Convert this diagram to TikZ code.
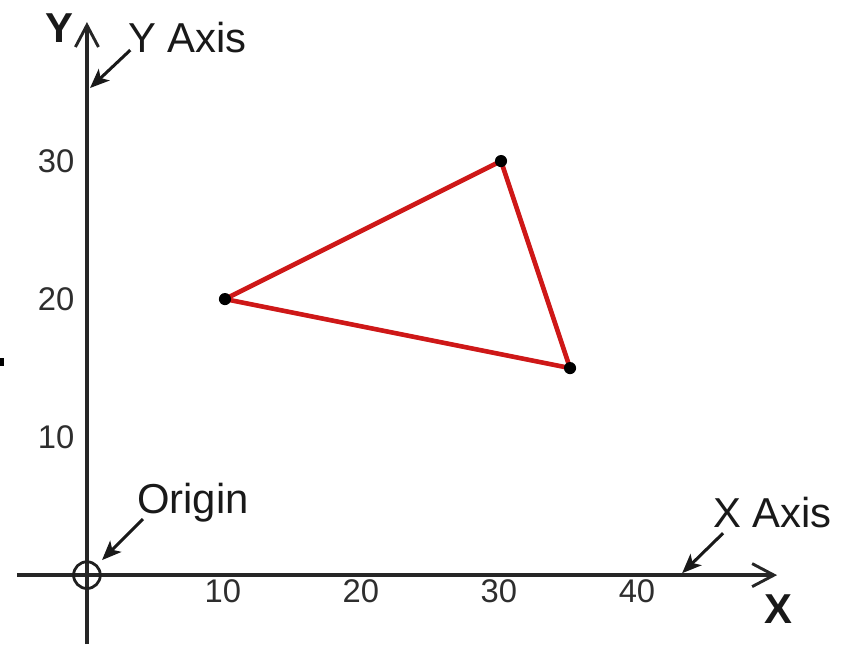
\documentclass[tikz,border=0pt]{standalone}
\usepackage{fontspec}
\setmainfont{Liberation Sans}
\usetikzlibrary{arrows.meta}

\definecolor{edgered}{RGB}{206,24,24}

\begin{document}
\begin{tikzpicture}[
  x=0.4cm, y=0.4cm,
  axis/.style={line width=2.9pt, draw=black!85},
  axistip/.style={axis, -{Straight Barb[length=18pt,width=19pt,line width=2.4pt]}},
  pointer/.style={line width=2.5pt, draw=black!90, -{Stealth[length=16pt,width=13pt,inset=4pt]}},
  axislabel/.style={font=\fontsize{34.5}{40}\selectfont, text=black!90,
    inner sep=0pt, anchor=base west},
  axisname/.style={font=\fontsize{34.5}{40}\selectfont\bfseries, text=black!90,
    inner sep=0pt, anchor=base},
  ticklabel/.style={font=\fontsize{27}{30}\selectfont, text=black!82, inner sep=0pt},
  vertex/.style={circle, fill=black, inner sep=0pt, minimum size=10pt},
  side/.style={draw=edgered, line width=3.8pt, line join=round}
]
  \useasboundingbox (-6.30,-5.0) rectangle (55.14,41.67);

  % axes
  \coordinate (ybottom) at (0,-5.0);
  \coordinate (ytop) at (0,40.07);
  \coordinate (xleft) at (-5.07,0);
  \coordinate (xright) at (50.0,0);
  \draw[axistip] (ybottom) -- (ytop);
  \draw[axistip] (xleft) -- (xright);
  \node[circle, draw=black!88, line width=2.3pt, minimum size=22pt, inner sep=0pt] (origin) at (0,0) {};

  \node[axisname] (yname) at (-1.96,38.62) {Y};
  \node[axisname] (xname) at (50.07,-3.48) {X};

  \foreach \v in {10,20,30,40}
    \node[ticklabel] (xtick\v) at (\v-0.15,-1.2) {\v};
  \foreach \v in {10,20,30}
    \node[ticklabel, anchor=east] (ytick\v) at (-0.9,\v) {\v};

  % pointers to the axes and the origin
  \node[axislabel] (yaxislabel) at (2.97,37.83) {Y Axis};
  \node[axislabel] (originlabel) at (3.62,4.49) {Origin};
  \node[axislabel] (xaxislabel) at (45.36,3.48) {X Axis};
  \coordinate (ytail) at (3.14,38.04);
  \coordinate (yhead) at (0.22,35.29);
  \coordinate (otail) at (4.06,4.06);
  \coordinate (ohead) at (1.09,1.09);
  \coordinate (xtail) at (46.09,3.04);
  \coordinate (xhead) at (43.12,0.14);
  \draw[pointer] (ytail) -- (yhead);
  \draw[pointer] (otail) -- (ohead);
  \draw[pointer] (xtail) -- (xhead);

  % triangle
  \coordinate (pa) at (10,20);
  \coordinate (pb) at (30,30);
  \coordinate (pc) at (35,15);
  \draw[side] (pa) -- (pb) -- (pc) -- cycle;
  \node[vertex] (va) at (pa) {};
  \node[vertex] (vb) at (pb) {};
  \node[vertex] (vc) at (pc) {};

  \fill[black] (-6.30,15.14) rectangle (-6.01,15.72);
\end{tikzpicture}
\end{document}
